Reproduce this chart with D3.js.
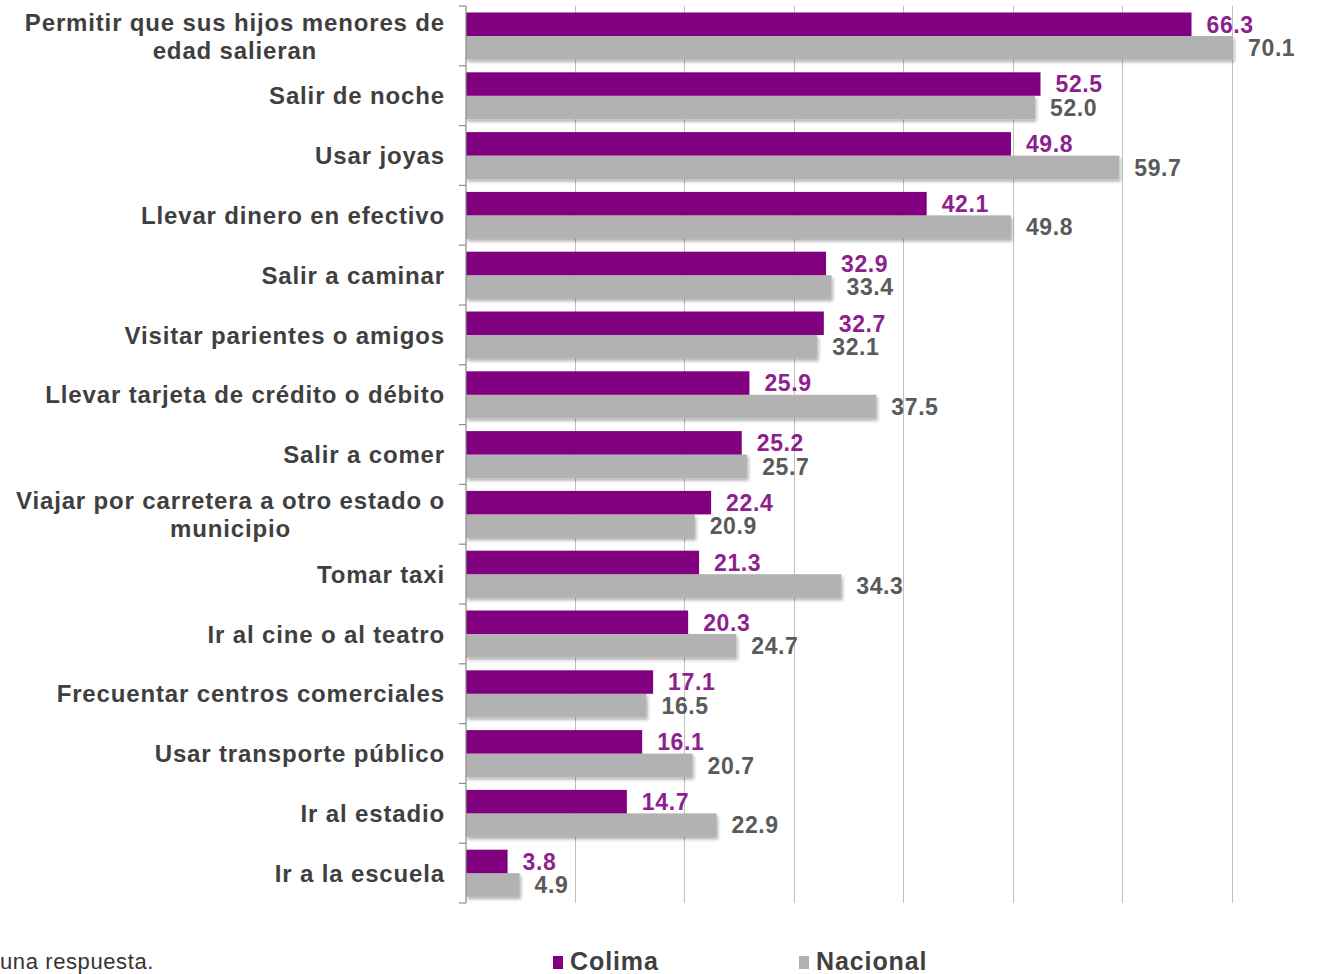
<!DOCTYPE html>
<html><head><meta charset="utf-8">
<script src="https://cdn.jsdelivr.net/npm/d3@7"></script>
<style>body{margin:0;background:#fff}svg{display:block}</style>
</head><body>
<svg id="c" width="1322" height="974"></svg>
<script>
const categories = [
  "Permitir que sus hijos menores de|edad salieran",
  "Salir de noche",
  "Usar joyas",
  "Llevar dinero en efectivo",
  "Salir a caminar",
  "Visitar parientes o amigos",
  "Llevar tarjeta de crédito o débito",
  "Salir a comer",
  "Viajar por carretera a otro estado o|municipio",
  "Tomar taxi",
  "Ir al cine o al teatro",
  "Frecuentar centros comerciales",
  "Usar transporte público",
  "Ir al estadio",
  "Ir a la escuela"
];
const colima   = [66.3, 52.5, 49.8, 42.1, 32.9, 32.7, 25.9, 25.2, 22.4, 21.3, 20.3, 17.1, 16.1, 14.7, 3.8];
const nacional = [70.1, 52.0, 59.7, 49.8, 33.4, 32.1, 37.5, 25.7, 20.9, 34.3, 24.7, 16.5, 20.7, 22.9, 4.9];
const seriesNames = ["Colima", "Nacional"];
const gridTicks = [0, 10, 20, 30, 40, 50, 60, 70];
const footnote = "una respuesta.";

const svg = d3.select("#c");
const x = d3.scaleLinear().domain([0, 70]).range([466, 1232]);
const y = d3.scaleBand().domain(d3.range(categories.length)).range([6, 903]).padding(0);
const sub = d3.scaleBand().domain(seriesNames).range([6.5, 53.5]).padding(0);
const colors = {Colima: "#800080", Nacional: "#b2b2b2"};
const textColors = {Colima: "#8e1f8e", Nacional: "#5a5a5a"};

const defs = svg.append("defs");
const f = defs.append("filter").attr("id", "sh").attr("x", "-5%").attr("y", "-30%").attr("width", "120%").attr("height", "170%");
f.append("feDropShadow").attr("dx", 1.5).attr("dy", 2.5).attr("stdDeviation", 1.5).attr("flood-color", "#000").attr("flood-opacity", 0.3);

// grid lines
svg.append("g").selectAll("line").data(gridTicks.slice(1)).join("line")
  .attr("x1", d => x(d)).attr("x2", d => x(d)).attr("y1", 6).attr("y2", 903)
  .attr("stroke", "#c0c0c0").attr("stroke-width", 1).attr("shape-rendering", "crispEdges");

// bars
const rows = categories.map((c, i) => ({i, vals: [{s: "Colima", v: colima[i]}, {s: "Nacional", v: nacional[i]}]}));
const g = svg.append("g").selectAll("g").data(rows).join("g").attr("transform", d => `translate(0,${y(d.i)})`);
g.each(function(d) {
  const sel = d3.select(this);
  const order = [d.vals[1], d.vals[0]];
  order.forEach(o => {
    sel.append("rect").attr("x", x(0)).attr("y", sub(o.s)).attr("width", x(o.v) - x(0)).attr("height", sub.bandwidth())
      .attr("fill", colors[o.s]).attr("filter", o.s === "Nacional" ? "url(#sh)" : null);
  });
  d.vals.forEach(o => {
    sel.append("text").attr("x", x(o.v) + 15).attr("y", sub(o.s) + sub.bandwidth() / 2)
      .attr("dy", "0.36em").attr("fill", textColors[o.s])
      .attr("font-family", "Liberation Sans, Arial, sans-serif").attr("font-weight", "bold").attr("font-size", 23)
      .attr("letter-spacing", "0.6px")
      .text(o.v.toFixed(1));
  });
});

// axis line and ticks
svg.append("line").attr("x1", 466).attr("x2", 466).attr("y1", 6).attr("y2", 903)
  .attr("stroke", "#8c8c8c").attr("stroke-width", 1.2);
svg.append("g").selectAll("line").data(d3.range(categories.length + 1)).join("line")
  .attr("x1", 459).attr("x2", 466)
  .attr("y1", d => d < categories.length ? y(d) : y.range()[1])
  .attr("y2", d => d < categories.length ? y(d) : y.range()[1])
  .attr("stroke", "#8c8c8c").attr("stroke-width", 1.2);

// category labels
const lab = svg.append("g").attr("font-family", "Liberation Sans, Arial, sans-serif").attr("font-weight", "bold")
  .attr("font-size", 24).attr("fill", "#3f3f3f").attr("letter-spacing", "0.85px");
categories.forEach((c, i) => {
  const lines = c.split("|");
  const cy = y(i) + y.bandwidth() / 2;
  const lh = 28;
  const tmp = lines.map(l => lab.append("text").text(l));
  const widths = tmp.map(t => t.node().getComputedTextLength());
  const maxW = d3.max(widths);
  const right = 445;
  tmp.forEach((t, k) => {
    const yy = cy + (k - (lines.length - 1) / 2) * lh;
    if (lines.length > 1) {
      t.attr("x", right - maxW / 2).attr("text-anchor", "middle");
    } else {
      t.attr("x", right).attr("text-anchor", "end");
    }
    t.attr("y", yy).attr("dy", "0.36em");
  });
});

// footnote
svg.append("text").attr("x", 0).attr("y", 969).attr("font-family", "Liberation Sans, Arial, sans-serif")
  .attr("font-size", 22).attr("letter-spacing", "0.6px").attr("fill", "#333").text(footnote);

// legend
const legX = [553, 799];
const leg = svg.append("g").selectAll("g").data(seriesNames).join("g")
  .attr("transform", (d, i) => `translate(${legX[i]},0)`);
leg.append("rect").attr("x", 0).attr("y", 956).attr("width", 10).attr("height", 13).attr("fill", d => colors[d]);
leg.append("text").attr("x", 17).attr("y", 970).attr("font-family", "Liberation Sans, Arial, sans-serif")
  .attr("font-weight", "bold").attr("font-size", 25).attr("letter-spacing", "0.9px").attr("fill", "#3f3f3f").text(d => d);
</script>
</body></html>
